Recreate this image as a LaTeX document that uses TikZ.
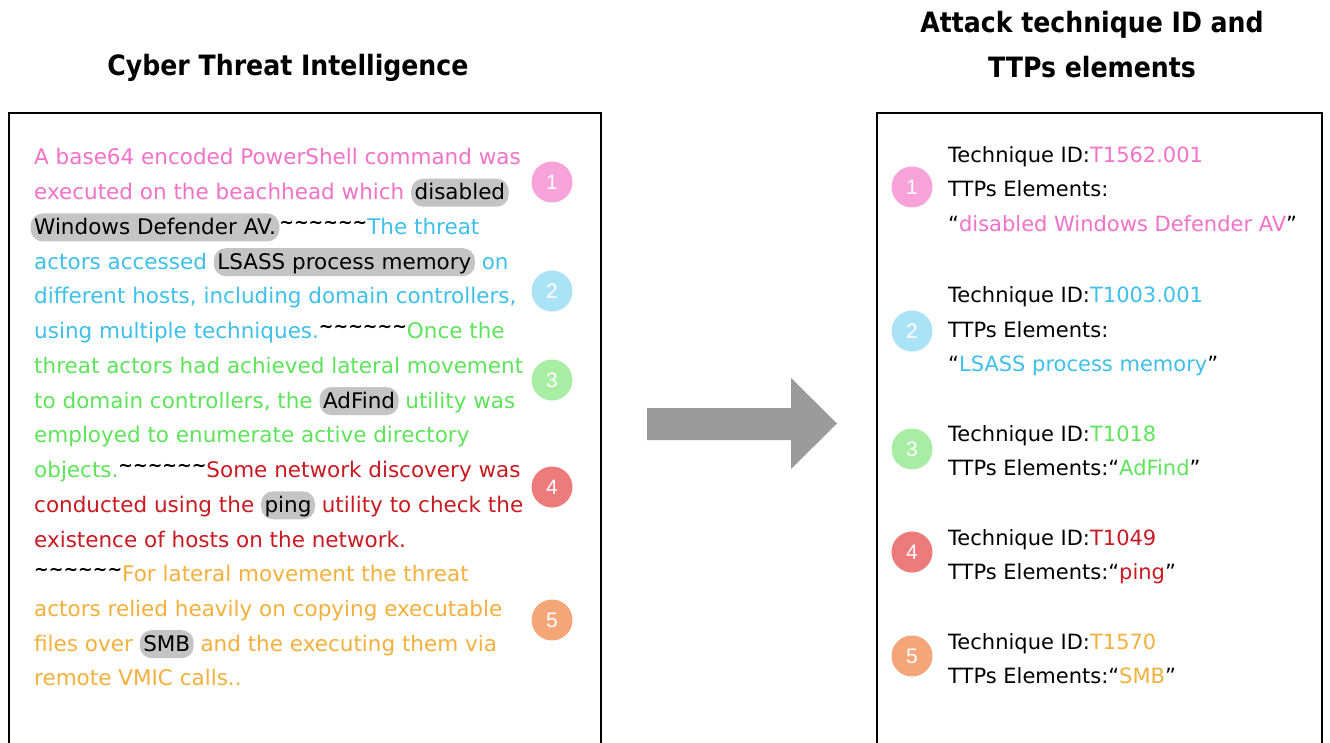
\documentclass[tikz,border=0pt]{standalone}
\usepackage{fontspec}
\setmainfont{DejaVu Sans}
\newfontfamily\titlefont{DejaVu Sans Condensed}
\newfontfamily\numfont{Liberation Sans}

\definecolor{cpink}{HTML}{F272C8}
\definecolor{cpinkc}{HTML}{F8A2DA}
\definecolor{ccyan}{HTML}{3EC0EA}
\definecolor{ccyanc}{HTML}{AAE3F5}
\definecolor{cgreen}{HTML}{5EE45A}
\definecolor{cgreenc}{HTML}{A8EDA4}
\definecolor{cred}{HTML}{C81A22}
\definecolor{credc}{HTML}{EE7B7B}
\definecolor{corange}{HTML}{F3B03C}
\definecolor{corangec}{HTML}{F4A678}
\definecolor{pillgray}{HTML}{C4C4C4}
\definecolor{arrowgray}{HTML}{9B9B9B}

% grey pill behind a highlighted phrase
\newcommand\hl[1]{\tikz[baseline=(hlw.base)]\node[hlpill] (hlw) {#1};}
% raised run of tildes separating the passages
\newcommand\squig{{\color{black}\raisebox{6pt}{\fontsize{17.5}{17.5}\selectfont\bfseries
  \textasciitilde\textasciitilde\textasciitilde\textasciitilde\textasciitilde\textasciitilde}}}

\begin{document}
\begin{tikzpicture}[x=1pt,y=-1pt,
  line/.style={anchor=base west, inner sep=0pt, font=\fontsize{21.5}{21.5}\selectfont},
  rline/.style={anchor=base west, inner sep=0pt, font=\fontsize{21}{21}\selectfont},
  badge/.style={circle, minimum size=41pt, inner sep=0pt, text=white,
    font=\numfont\fontsize{21}{21}\selectfont},
  hlpill/.style={fill=pillgray, rounded corners=12pt, inner xsep=3.5pt, inner ysep=3pt,
    text height=18pt, text depth=4pt, text=black, anchor=base},
  title/.style={font=\titlefont\bfseries\fontsize{28}{28}\selectfont, anchor=base, inner sep=0pt},
  frame/.style={line width=2pt, black}]

\useasboundingbox[fill=white] (0,0) rectangle (1330,743);

% titles
\node[title] (t1) at (288,76) {Cyber Threat Intelligence};
\node[title] (t2a) at (1092,33) {Attack technique ID and};
\node[title] (t2b) at (1092,78) {TTPs elements};

% the two panels (open at the bottom)
\coordinate (lbl) at (9,743);
\coordinate (ltl) at (9,113);
\coordinate (ltr) at (601,113);
\coordinate (lbr) at (601,743);
\draw[frame] (lbl) -- (ltl) -- (ltr) -- (lbr);
\coordinate (rbl) at (877,743);
\coordinate (rtl) at (877,113);
\coordinate (rtr) at (1322,113);
\coordinate (rbr) at (1322,743);
\draw[frame] (rbl) -- (rtl) -- (rtr) -- (rbr);

% block arrow between the panels
\fill[arrowgray] (647,408) -- (791,408) -- (791,378) -- (837,423.5)
  -- (791,469) -- (791,440) -- (647,440) -- cycle;

% report text
\node[line,text=cpink] (p1) at (34,165) {A base64 encoded PowerShell command was};
\node[line,text=cpink] (p2) at (34,199.73) {executed on the beachhead which \hl{disabled}};
\node[line] (p3) at (30.5,234.46) {\hl{Windows Defender AV.}\squig\textcolor{ccyan}{The threat}};
\node[line,text=ccyan] (p4) at (34,269.19) {actors accessed \hl{LSASS process memory} on};
\node[line,text=ccyan] (p5) at (34,303.92) {different hosts, including domain controllers,};
\node[line,text=ccyan] (p6) at (34,338.65) {using multiple techniques.\squig\textcolor{cgreen}{Once the}};
\node[line,text=cgreen] (p7) at (34,373.38) {threat actors had achieved lateral movement};
\node[line,text=cgreen] (p8) at (34,408.11) {to domain controllers, the \hl{AdFind} utility was};
\node[line,text=cgreen] (p9) at (34,442.84) {employed to enumerate active directory};
\node[line,text=cgreen] (p10) at (34,477.57) {objects.\squig\textcolor{cred}{Some network discovery was}};
\node[line,text=cred] (p11) at (34,512.3) {conducted using the \hl{ping} utility to check the};
\node[line,text=cred] (p12) at (34,547.03) {existence of hosts on the network.};
\node[line] (p13) at (34,581.76) {\squig\textcolor{corange}{For lateral movement the threat}};
\node[line,text=corange] (p14) at (34,616.49) {actors relied heavily on copying executable};
\node[line,text=corange] (p15) at (34,651.22) {files over \hl{SMB} and the executing them via};
\node[line,text=corange] (p16) at (34,685.95) {remote VMIC calls..};

% numbered markers beside the passages
\node[badge,fill=cpinkc] (l1) at (552,182) {1};
\node[badge,fill=ccyanc] (l2) at (552,291) {2};
\node[badge,fill=cgreenc] (l3) at (552,380) {3};
\node[badge,fill=credc] (l4) at (552,487) {4};
\node[badge,fill=corangec] (l5) at (552,620) {5};

% extracted techniques
\node[badge,fill=cpinkc] (r1) at (912,187) {1};
\node[rline] (a1) at (948,163) {Technique ID:\textcolor{cpink}{T1562.001}};
\node[rline] (b1) at (948,197) {TTPs Elements:};
\node[rline] (c1) at (948,232) {“\textcolor{cpink}{disabled Windows Defender AV}”};

\node[badge,fill=ccyanc] (r2) at (912,331) {2};
\node[rline] (a2) at (948,302) {Technique ID:\textcolor{ccyan}{T1003.001}};
\node[rline] (b2) at (948,337) {TTPs Elements:};
\node[rline] (c2) at (948,371) {“\textcolor{ccyan}{LSASS process memory}”};

\node[badge,fill=cgreenc] (r3) at (912,449) {3};
\node[rline] (a3) at (948,441) {Technique ID:\textcolor{cgreen}{T1018}};
\node[rline] (b3) at (948,475) {TTPs Elements:“\textcolor{cgreen}{AdFind}”};

\node[badge,fill=credc] (r4) at (912,552) {4};
\node[rline] (a4) at (948,545) {Technique ID:\textcolor{cred}{T1049}};
\node[rline] (b4) at (948,579) {TTPs Elements:“\textcolor{cred}{ping}”};

\node[badge,fill=corangec] (r5) at (912,656) {5};
\node[rline] (a5) at (948,649) {Technique ID:\textcolor{corange}{T1570}};
\node[rline] (b5) at (948,683) {TTPs Elements:“\textcolor{corange}{SMB}”};
\end{tikzpicture}
\end{document}
